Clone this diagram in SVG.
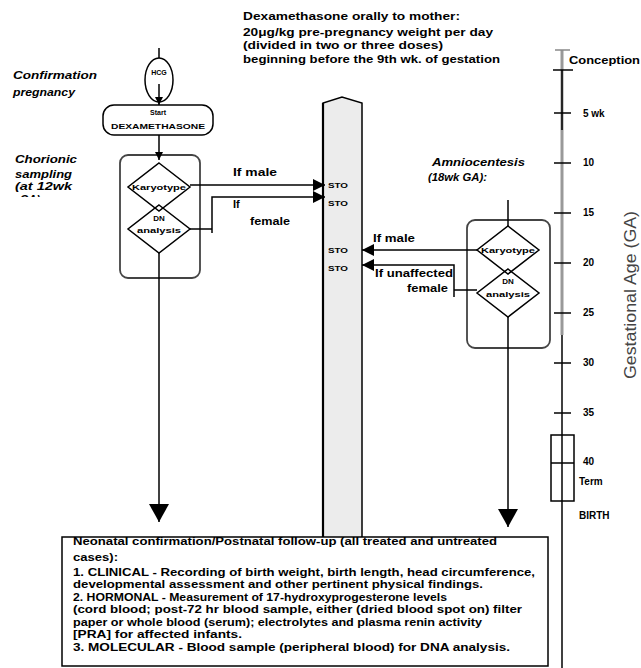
<svg xmlns="http://www.w3.org/2000/svg" width="641" height="668" viewBox="0 0 641 668">
<style>
.t{font-family:"Liberation Sans",Arial,sans-serif;font-weight:bold;fill:#000}
.i{font-style:italic}
.s{font-size:11px}
.sm{font-size:8px}
.tl{font-size:10px}
.ln{fill:none;stroke:#000;stroke-width:1.5}
.cont{fill:none;stroke:#444;stroke-width:1.8}
.dia{fill:none;stroke:#000;stroke-width:1.5}
</style>
<defs>
<marker id="ah" viewBox="0 0 12 12" markerWidth="12" markerHeight="12" refX="12" refY="6" orient="auto" markerUnits="userSpaceOnUse"><path d="M0,0 L12,6 L0,12 z" fill="#000"/></marker>
<marker id="ahL" viewBox="0 0 18 20" markerWidth="18" markerHeight="20" refX="18" refY="10" orient="auto" markerUnits="userSpaceOnUse"><path d="M0,0 L18,10 L0,20 z" fill="#000"/></marker>
<marker id="ahS" viewBox="0 0 8 8" markerWidth="8" markerHeight="8" refX="8" refY="4" orient="auto" markerUnits="userSpaceOnUse"><path d="M0,0 L8,4 L0,8 z" fill="#000"/></marker>
<clipPath id="cga"><rect x="0" y="150" width="110" height="47"/></clipPath>
</defs>
<rect width="641" height="668" fill="#fff"/>

<g id="dex-note">
<text class="t s" x="243" y="20" textLength="217" lengthAdjust="spacingAndGlyphs">Dexamethasone  orally to mother:</text>
<text class="t s" x="243" y="36" textLength="250" lengthAdjust="spacingAndGlyphs">20μg/kg pre-pregnancy weight per day</text>
<text class="t s" x="243" y="49" textLength="200" lengthAdjust="spacingAndGlyphs">(divided in two or three doses)</text>
<text class="t s" x="243" y="63" textLength="257" lengthAdjust="spacingAndGlyphs">beginning before the 9th wk. of gestation</text>
</g>

<g id="labels-left">
<text class="t s i" x="13" y="79" textLength="84" lengthAdjust="spacingAndGlyphs">Confirmation</text>
<text class="t s i" x="13" y="96" textLength="62" lengthAdjust="spacingAndGlyphs">pregnancy</text>
<text class="t s i" x="15" y="163" textLength="62" lengthAdjust="spacingAndGlyphs">Chorionic</text>
<text class="t s i" x="15" y="178" textLength="57" lengthAdjust="spacingAndGlyphs">sampling</text>
<text class="t s i" x="15" y="190" textLength="57" lengthAdjust="spacingAndGlyphs">(at 12wk</text>
<text class="t s i" x="20" y="203" clip-path="url(#cga)">GA)</text>
</g>

<g id="bar">
<path d="M323,537 V103 L342,97 L362,103 V537" fill="#ececec" stroke="#000" stroke-width="1.5"/>
<line x1="323" y1="103" x2="323" y2="537" stroke="#000" stroke-width="2.2"/>
<text class="t sm" x="328" y="188" textLength="20" lengthAdjust="spacingAndGlyphs">STO</text>
<text class="t sm" x="328" y="206" textLength="20" lengthAdjust="spacingAndGlyphs">STO</text>
<text class="t sm" x="328" y="253" textLength="20" lengthAdjust="spacingAndGlyphs">STO</text>
<text class="t sm" x="328" y="271" textLength="20" lengthAdjust="spacingAndGlyphs">STO</text>
</g>

<g id="hcg">
<ellipse cx="159" cy="80" rx="14" ry="22" fill="#fff" stroke="#000" stroke-width="1.5"/>
<text class="t" x="159" y="75" font-size="7" text-anchor="middle">HCG</text>
</g>

<g id="start-dex">
<rect x="103" y="105" width="110" height="30" rx="11" fill="#fff" stroke="#000" stroke-width="1.5"/>
<text class="t" x="158" y="115" font-size="7" text-anchor="middle">Start</text>
<text class="t" x="158" y="129" font-size="8" text-anchor="middle" textLength="94" lengthAdjust="spacingAndGlyphs">DEXAMETHASONE</text>
</g>

<g id="cvs-box">
<rect x="120" y="155" width="80" height="123" rx="8" class="cont"/>
</g>
<g id="cvs-karyotype">
<path d="M159,163 L190,187 L159,211 L128,187 Z" class="dia"/>
<text class="t" x="159" y="190" font-size="8" text-anchor="middle" textLength="54" lengthAdjust="spacingAndGlyphs">Karyotype</text>
</g>
<g id="cvs-dna">
<path d="M159,205 L190,229 L159,253 L128,229 Z" class="dia"/>
<text class="t" x="159" y="221" font-size="8" text-anchor="middle">DN</text>
<text class="t" x="159" y="233" font-size="8" text-anchor="middle" textLength="44" lengthAdjust="spacingAndGlyphs">analysis</text>
</g>

<g id="amnio-label">
<text class="t s i" x="432" y="166" textLength="93" lengthAdjust="spacingAndGlyphs">Amniocentesis</text>
<text class="t s i" x="428" y="181" textLength="59" lengthAdjust="spacingAndGlyphs">(18wk GA):</text>
</g>

<g id="amnio-box">
<rect x="467" y="220" width="83" height="128" rx="8" class="cont"/>
</g>
<g id="amnio-karyotype">
<path d="M508,226 L539,250 L508,274 L477,250 Z" class="dia"/>
<text class="t" x="508" y="253" font-size="8" text-anchor="middle" textLength="54" lengthAdjust="spacingAndGlyphs">Karyotype</text>
</g>
<g id="amnio-dna">
<path d="M508,269 L539,293 L508,317 L477,293 Z" class="dia"/>
<text class="t" x="508" y="284" font-size="8" text-anchor="middle">DN</text>
<text class="t" x="508" y="297" font-size="8" text-anchor="middle" textLength="44" lengthAdjust="spacingAndGlyphs">analysis</text>
</g>

<g id="connectors">
<path d="M159,48 V58" class="ln"/>
<path d="M159,84 V105" class="ln" marker-end="url(#ahS)"/>
<path d="M159,135 V160" class="ln" marker-end="url(#ahS)"/>
<path d="M190,185 H325" class="ln" marker-end="url(#ah)"/>
<path d="M190,229 H212 M212,233 V197 H325" class="ln" marker-end="url(#ah)"/>
<path d="M159,253 V522" class="ln" marker-end="url(#ahL)"/>
<path d="M508,200 V226" class="ln"/>
<path d="M477,250 H362" class="ln" marker-end="url(#ah)"/>
<path d="M477,290 H454 M454,297 V265 H362" class="ln" marker-end="url(#ah)"/>
<path d="M508,317 V527" class="ln" marker-end="url(#ahL)"/>
<text class="t s" x="233" y="176" textLength="44" lengthAdjust="spacingAndGlyphs">If male</text>
<text class="t s" x="233" y="208">If</text>
<text class="t s" x="250" y="225" textLength="40" lengthAdjust="spacingAndGlyphs">female</text>
<text class="t s" x="373" y="242" textLength="42" lengthAdjust="spacingAndGlyphs">If male</text>
<text class="t s" x="375" y="277" textLength="78" lengthAdjust="spacingAndGlyphs">If unaffected</text>
<text class="t s" x="407" y="292" textLength="41" lengthAdjust="spacingAndGlyphs">female</text>
</g>

<g id="timeline">
<line x1="562" y1="50" x2="562" y2="335" stroke="#999" stroke-width="3"/>
<line x1="562" y1="335" x2="562" y2="668" stroke="#000" stroke-width="1.5"/>
<line x1="562" y1="70" x2="562" y2="130" stroke="#000" stroke-width="1.5"/>
<line x1="555" y1="50" x2="570" y2="50" stroke="#888" stroke-width="1.5"/>
<line x1="553" y1="70" x2="573" y2="70" stroke="#000" stroke-width="1.5"/>
<g stroke="#000" stroke-width="1.5">
<line x1="554" y1="113" x2="571" y2="113"/>
<line x1="554" y1="163" x2="571" y2="163"/>
<line x1="554" y1="213" x2="571" y2="213"/>
<line x1="554" y1="263" x2="571" y2="263"/>
<line x1="554" y1="313" x2="571" y2="313"/>
<line x1="554" y1="363" x2="571" y2="363"/>
<line x1="554" y1="413" x2="571" y2="413"/>
</g>
<rect x="551" y="435" width="23" height="66" fill="none" stroke="#000" stroke-width="1.5"/>
<line x1="551" y1="463" x2="574" y2="463" stroke="#000" stroke-width="1.5"/>
<text class="t tl" x="569" y="64" textLength="71" lengthAdjust="spacingAndGlyphs">Conception</text>
<text class="t tl" x="583" y="117">5 wk</text>
<text class="t tl" x="583" y="166">10</text>
<text class="t tl" x="583" y="216">15</text>
<text class="t tl" x="583" y="266">20</text>
<text class="t tl" x="583" y="316">25</text>
<text class="t tl" x="583" y="366">30</text>
<text class="t tl" x="583" y="416">35</text>
<text class="t tl" x="583" y="465">40</text>
<text class="t tl" x="579" y="485">Term</text>
<text class="t tl" x="579" y="519">BIRTH</text>
<text x="636" y="295" transform="rotate(-90 636 295)" text-anchor="middle" font-family="Liberation Sans, Arial, sans-serif" font-size="16" fill="#444" textLength="168" lengthAdjust="spacingAndGlyphs">Gestational Age (GA)</text>
</g>

<g id="followup-box">
<rect x="62" y="537" width="486" height="129" fill="#fff" stroke="#000" stroke-width="1.5"/>
<text class="t s" x="73" y="545" textLength="424" lengthAdjust="spacingAndGlyphs">Neonatal confirmation/Postnatal follow-up (all treated and untreated</text>
<text class="t s" x="73" y="561" textLength="45" lengthAdjust="spacingAndGlyphs">cases):</text>
<text class="t s" x="73" y="576" textLength="462" lengthAdjust="spacingAndGlyphs">1. CLINICAL - Recording of birth weight, birth length, head circumference,</text>
<text class="t s" x="73" y="588" textLength="410" lengthAdjust="spacingAndGlyphs">developmental assessment and other pertinent physical findings.</text>
<text class="t s" x="73" y="601" textLength="374" lengthAdjust="spacingAndGlyphs">2. HORMONAL - Measurement of 17-hydroxyprogesterone levels</text>
<text class="t s" x="73" y="613" textLength="449" lengthAdjust="spacingAndGlyphs">(cord blood; post-72 hr blood sample, either (dried blood spot on) filter</text>
<text class="t s" x="73" y="626" textLength="409" lengthAdjust="spacingAndGlyphs">paper or whole blood (serum); electrolytes and plasma renin activity</text>
<text class="t s" x="73" y="638" textLength="169" lengthAdjust="spacingAndGlyphs">[PRA] for affected infants.</text>
<text class="t s" x="73" y="651" textLength="437" lengthAdjust="spacingAndGlyphs">3. MOLECULAR - Blood sample (peripheral blood) for DNA analysis.</text>
</g>
</svg>
